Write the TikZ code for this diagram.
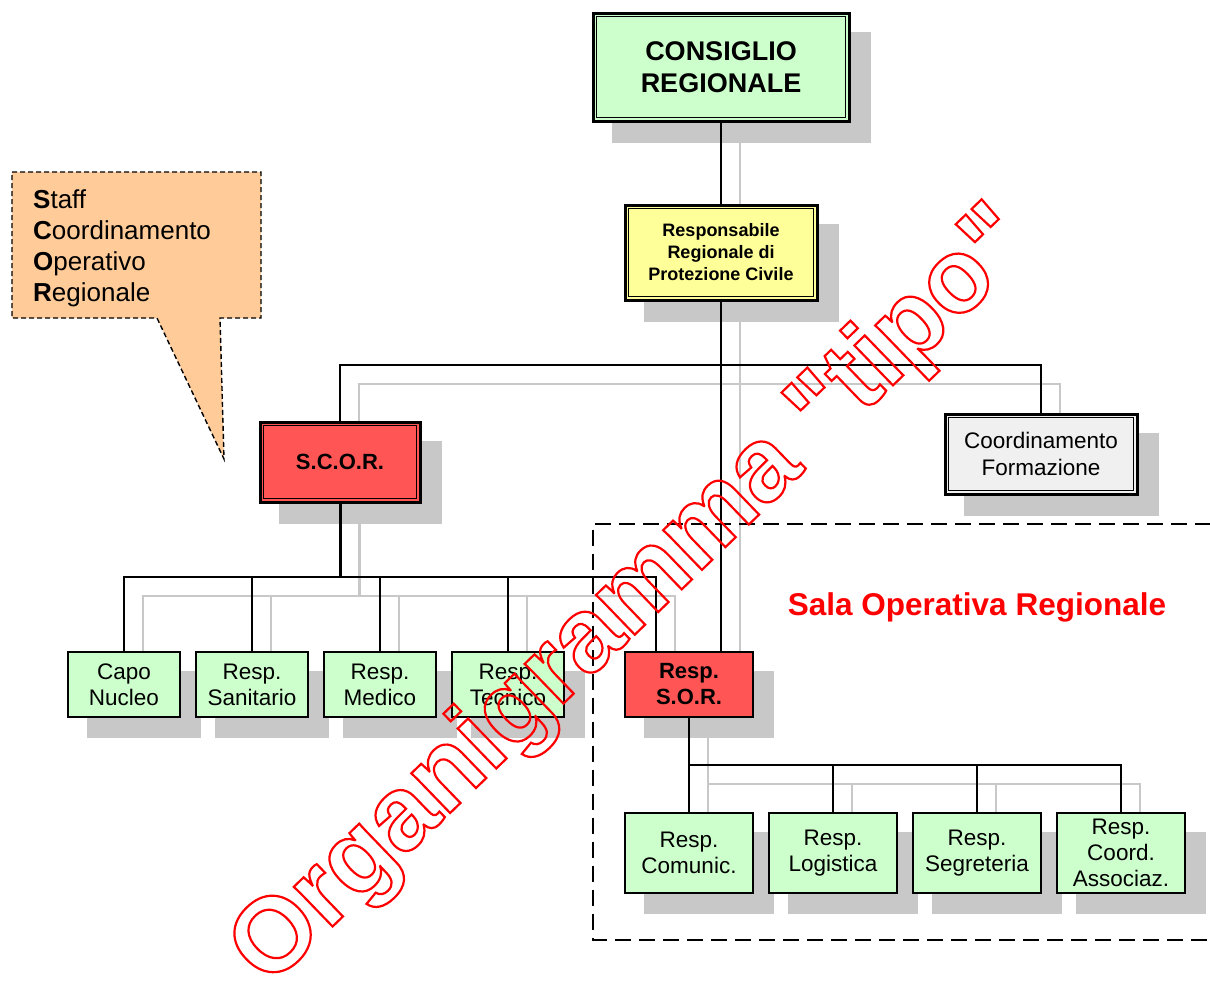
\documentclass[tikz,border=0pt]{standalone}
\usepackage{fontspec}
\setmainfont{Liberation Sans}
\newfontfamily\wmfont{Liberation Sans Bold}[Ligatures=ResetAll]
\definecolor{cgreen}{HTML}{CCFFCC}
\definecolor{cyellow}{HTML}{FFFF99}
\definecolor{cred}{HTML}{FF5555}
\definecolor{cgrayfill}{HTML}{F0F0F0}
\definecolor{cshadow}{HTML}{C8C8C8}
\definecolor{corange}{HTML}{FFCC99}
\pgfdeclarelayer{shadow}
\pgfdeclarelayer{lines}
\pgfsetlayers{shadow,lines,main}
\newcommand\orgwires{%
  \draw (cons.south) -- (resp.north);
  \draw (resp.south) -- (resp.south |- sor.north);
  \draw (scor.north) |- (bus1) -| (coord.north);
  \draw[line width=3pt] (scor.south) -- (bus2);
  \draw (capo.north) |- (bus2);
  \draw (sanit.north) |- (bus2);
  \draw (medico.north) |- (bus2);
  \draw (tecnico.north) |- (bus2);
  \draw (sorleft) |- (bus2);
  \draw (sor.south) -- (bus3);
  \draw (comunic.north) |- (bus3);
  \draw (logist.north) |- (bus3);
  \draw (segr.north) |- (bus3);
  \draw (assoc.north) |- (bus3);
}
\newcommand\strokedtext[1]{\special{pdf:literal direct 1 Tr 2.2 w}#1\special{pdf:literal direct 0 Tr}}
\begin{document}
\begin{tikzpicture}[x=1pt,y=-1pt,
  orgbox/.style={draw=black, line width=2.3pt, inner sep=0pt, align=center,
    font=\fontsize{22.5}{26}\selectfont},
  dblbox/.style={draw=black, line width=3pt, inner sep=0pt, align=center},
  kidbox/.style={orgbox, fill=cgreen, minimum width=112pt, minimum height=65pt},
  lowbox/.style={orgbox, fill=cgreen, minimum width=128pt, minimum height=80pt}]
\useasboundingbox (0,0) rectangle (1210,988);

% callout
\draw[fill=corange, dash pattern=on 5pt off 3pt, line width=1.4pt]
  (12,172) -- (261,172) -- (261,318) -- (220,318) -- (224,459) -- (157,318) -- (12,318) -- cycle;
\node[anchor=west, align=left, font=\fontsize{26}{31}\selectfont, inner sep=0pt] (staff) at (33,248.5)
  {\textbf{S}taff\\\textbf{C}oordinamento\\\textbf{O}perativo\\\textbf{R}egionale};

% sala operativa frame
\draw[line width=2pt, dash pattern=on 16pt off 8pt] (1235,524) -- (593,524) -- (593,940) -- (1235,940);
\node[text=red, font=\bfseries\fontsize{31.5}{34}\selectfont, inner sep=0pt] (sala) at (977,607) {Sala Operativa Regionale};

% boxes
\node[dblbox, fill=cgreen, minimum width=256pt, minimum height=108pt,
  font=\bfseries\fontsize{27}{32}\selectfont] (cons) at (721,67) {CONSIGLIO\\REGIONALE};
\node[dblbox, fill=cyellow, minimum width=192pt, minimum height=95pt,
  font=\bfseries\fontsize{18}{22}\selectfont] (resp) at (721,252.5) {Responsabile\\Regionale di\\Protezione Civile};
\node[dblbox, fill=cred, minimum width=160pt, minimum height=80pt,
  font=\bfseries\fontsize{22}{26}\selectfont] (scor) at (340,462) {S.C.O.R.};
\node[dblbox, fill=cgrayfill, minimum width=192pt, minimum height=80pt,
  font=\fontsize{22.5}{27}\selectfont] (coord) at (1041,454) {Coordinamento\\Formazione};
\foreach \n in {cons,resp,scor,coord}
  \draw[line width=1.4pt] ([shift={(5pt,-5pt)}]\n.north west) rectangle ([shift={(-5pt,5pt)}]\n.south east);

\node[kidbox] (capo) at (124,684.5) {Capo\\Nucleo};
\node[kidbox] (sanit) at (252,684.5) {Resp.\\Sanitario};
\node[kidbox] (medico) at (380,684.5) {Resp.\\Medico};
\node[kidbox] (tecnico) at (508,684.5) {Resp.\\Tecnico};
\node[orgbox, fill=cred, minimum width=128pt, minimum height=65pt,
  font=\bfseries\fontsize{22}{26}\selectfont] (sor) at (689,684.5) {Resp.\\S.O.R.};
\node[lowbox] (comunic) at (689,853) {Resp.\\Comunic.};
\node[lowbox] (logist) at (833,853) {Resp.\\Logistica};
\node[lowbox] (segr) at (977,853) {Resp.\\Segreteria};
\node[lowbox] (assoc) at (1121,853) {Resp.\\Coord.\\Associaz.};

\coordinate (bus1) at (721,365);
\coordinate (bus2) at (340,577);
\coordinate (bus3) at (689,765);
\coordinate (sorleft) at ([xshift=-33pt]sor.north);

\begin{pgfonlayer}{shadow}
  \foreach \n in {cons,resp,scor,coord,capo,sanit,medico,tecnico,sor,comunic,logist,segr,assoc}
    \fill[cshadow] ([shift={(20pt,-20pt)}]\n.north west) rectangle ([shift={(20pt,-20pt)}]\n.south east);
\end{pgfonlayer}
\begin{pgfonlayer}{lines}
  \begin{scope}[transform canvas={shift={(19,19)}}, color=cshadow, line width=2pt]
    \orgwires
  \end{scope}
  \begin{scope}[color=black, line width=2.2pt]
    \orgwires
  \end{scope}
\end{pgfonlayer}

% watermark
\node[rotate=44, text=red, font=\wmfont\fontsize{105}{105}\selectfont, inner sep=0pt] (wm) at (634,598)
  {\strokedtext{Organigramma \char"22 tipo\char"22}};
\end{tikzpicture}
\end{document}
